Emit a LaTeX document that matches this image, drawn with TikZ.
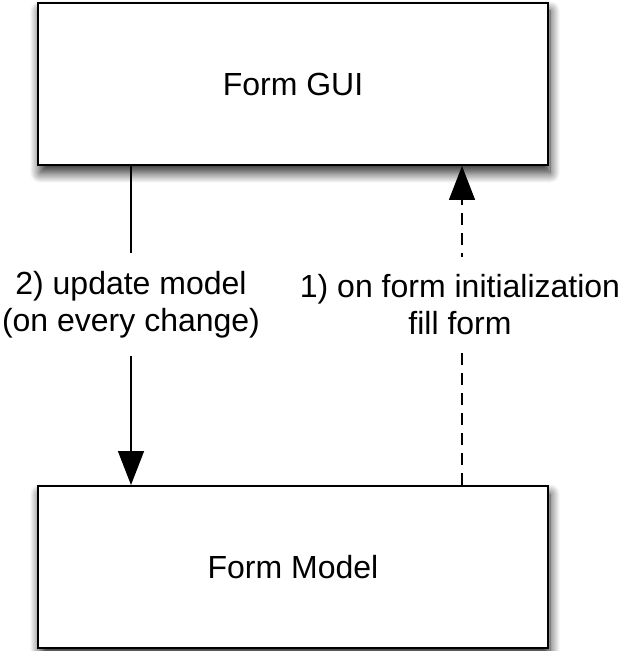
\documentclass[tikz,border=0pt]{standalone}
\usepackage{fontspec}
\setmainfont{Liberation Sans}
\usetikzlibrary{arrows.meta,shadows.blur}

\tikzset{
  block/.style={draw, line width=1pt, fill=white, minimum width=255pt, minimum height=81pt,
    font=\fontsize{16}{18.5}\selectfont,
    blur shadow={shadow xshift=1pt, shadow yshift=-4pt, shadow blur radius=5pt,
      shadow blur steps=14, shadow opacity=85}},
  flow/.style={line width=0.75pt, -{Triangle[length=17pt,width=13pt]}},
  lbl/.style={fill=white, align=center, inner sep=9pt, font=\fontsize{16}{18.5}\selectfont},
}

\begin{document}
\begin{tikzpicture}[x=0.5pt,y=-0.5pt]
  \useasboundingbox (0,0) rectangle (620,651);
  % boxes
  \node[block] (gui) at (293,84) {Form GUI};
  \node[block] (model) at (293,567) {Form Model};
  % arrows
  \draw[flow] ([xshift=-81pt]gui.south) -- node[lbl, pos=0.435] (upd) {2) update model\\(on every change)} ([xshift=-81pt]model.north);
  \draw[flow, dash pattern=on 6pt off 4pt] ([xshift=84.5pt]model.north) -- node[lbl, pos=0.565, xshift=-1pt] (init) {1) on form initialization\\fill form} ([xshift=84.5pt]gui.south);
\end{tikzpicture}
\end{document}
